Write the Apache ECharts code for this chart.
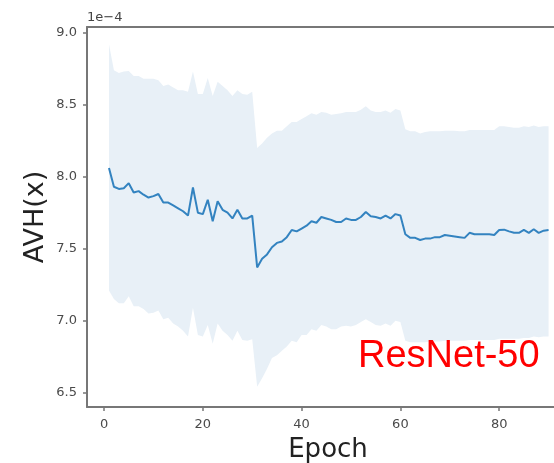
<!DOCTYPE html>
<html>
<head>
<meta charset="utf-8">
<script src="https://cdn.jsdelivr.net/npm/echarts@6/dist/echarts.min.js"></script>
<style>
  html, body { margin: 0; padding: 0; background: #fff; }
  #chart { width: 554px; height: 463px; }
</style>
</head>
<body>
<div id="chart"></div>
<script>
// AVH(x) per training epoch for ResNet-50, in units of 1e-4
const epochs = [];
for (let e = 1; e <= 90; e++) epochs.push(e);

const meanAVH = [
  8.06, 7.93, 7.915, 7.92, 7.955, 7.89, 7.90, 7.875, 7.855, 7.865,
  7.88, 7.82, 7.82, 7.80, 7.78, 7.76, 7.73, 7.925, 7.75, 7.74,
  7.84, 7.69, 7.83, 7.77, 7.75, 7.71, 7.77, 7.71, 7.71, 7.73,
  7.37, 7.43, 7.46, 7.51, 7.54, 7.55, 7.58, 7.63, 7.62, 7.64,
  7.66, 7.69, 7.68, 7.72, 7.71, 7.70, 7.685, 7.685, 7.71, 7.70,
  7.70, 7.72, 7.755, 7.725, 7.72, 7.71, 7.73, 7.71, 7.74, 7.73,
  7.60, 7.575, 7.575, 7.56, 7.57, 7.57, 7.58, 7.58, 7.595, 7.59,
  7.585, 7.58, 7.575, 7.61, 7.60, 7.60, 7.60, 7.60, 7.595, 7.63,
  7.632, 7.62, 7.61, 7.61, 7.63, 7.61, 7.635, 7.61, 7.625, 7.63
];

const upperAVH = [
  8.92, 8.74, 8.72, 8.73, 8.735, 8.70, 8.70, 8.68, 8.68, 8.68,
  8.67, 8.63, 8.64, 8.62, 8.60, 8.60, 8.59, 8.73, 8.575, 8.575,
  8.685, 8.56, 8.66, 8.63, 8.60, 8.56, 8.60, 8.575, 8.57, 8.59,
  8.20, 8.23, 8.27, 8.30, 8.32, 8.32, 8.35, 8.38, 8.38, 8.40,
  8.42, 8.44, 8.43, 8.45, 8.445, 8.43, 8.435, 8.44, 8.45, 8.45,
  8.45, 8.465, 8.49, 8.46, 8.45, 8.45, 8.46, 8.445, 8.47, 8.46,
  8.33, 8.315, 8.315, 8.30, 8.31, 8.315, 8.315, 8.315, 8.32, 8.32,
  8.32, 8.315, 8.315, 8.325, 8.325, 8.325, 8.325, 8.325, 8.325, 8.35,
  8.35, 8.345, 8.34, 8.34, 8.35, 8.345, 8.355, 8.345, 8.35, 8.35
];

const lowerAVH = [
  7.21, 7.15, 7.12, 7.12, 7.17, 7.10, 7.10, 7.08, 7.05, 7.055,
  7.07, 7.01, 7.02, 6.98, 6.96, 6.93, 6.89, 7.09, 6.90, 6.89,
  6.97, 6.84, 6.98, 6.93, 6.90, 6.86, 6.93, 6.865, 6.86, 6.87,
  6.54, 6.60, 6.665, 6.74, 6.76, 6.79, 6.82, 6.86, 6.85, 6.90,
  6.90, 6.94, 6.93, 6.97, 6.96, 6.94, 6.94, 6.96, 6.965, 6.96,
  6.97, 6.99, 7.01, 6.99, 6.97, 6.965, 6.98, 6.965, 7.00, 6.99,
  6.86, 6.85, 6.85, 6.85, 6.85, 6.855, 6.855, 6.855, 6.86, 6.86,
  6.86, 6.86, 6.86, 6.865, 6.865, 6.865, 6.865, 6.865, 6.865, 6.875,
  6.875, 6.875, 6.875, 6.875, 6.88, 6.88, 6.89, 6.885, 6.89, 6.89
];

const xTicks = [0, 20, 40, 60, 80];
const yTicks = [6.5, 7.0, 7.5, 8.0, 8.5, 9.0];

const spineColor = '#777';
const tickFont = { fontFamily: 'DejaVu Sans', fontSize: 13, color: '#4a4a4a' };

// one row per epoch: [epoch, lower, upper]
const bandRows = epochs.map((e, i) => [e, lowerAVH[i], upperAVH[i]]);
const meanPts = epochs.map((e, i) => [e, meanAVH[i]]);

// the whole spread band is one polygon: upper edge forward, lower edge back
function renderBand(params, api) {
  if (params.dataIndex !== 0) return null;
  const pts = [];
  for (let i = 0; i < bandRows.length; i++) {
    pts.push(api.coord([bandRows[i][0], bandRows[i][2]]));
  }
  for (let i = bandRows.length - 1; i >= 0; i--) {
    pts.push(api.coord([bandRows[i][0], bandRows[i][1]]));
  }
  return {
    type: 'polygon',
    shape: { points: pts },
    style: { fill: '#e8f0f7', stroke: null }
  };
}

const chart = echarts.init(document.getElementById('chart'), null, { renderer: 'canvas' });

chart.setOption({
  animation: false,
  backgroundColor: '#fff',
  grid: { left: 87, top: 27, right: 0, bottom: 56, containLabel: false },
  xAxis: [
    {
      type: 'value',
      min: -3.45,
      max: 91.1,
      splitLine: { show: false },
      axisLine: { show: true, onZero: false, lineStyle: { color: spineColor, width: 2 } },
      axisTick: { show: true, length: 4, inside: false, customValues: xTicks,
                  lineStyle: { color: spineColor, width: 1.5 } },
      axisLabel: Object.assign({ margin: 11, customValues: xTicks,
                  formatter: v => String(v) }, tickFont)
    },
    {
      type: 'value',
      position: 'top',
      min: -3.45,
      max: 91.1,
      splitLine: { show: false },
      axisLine: { show: true, onZero: false, lineStyle: { color: spineColor, width: 2 } },
      axisTick: { show: false },
      axisLabel: { show: false }
    }
  ],
  yAxis: {
    type: 'value',
    min: 6.40,
    max: 9.04,
    splitLine: { show: false },
    axisLine: { show: true, onZero: false, lineStyle: { color: spineColor, width: 2 } },
    axisTick: { show: true, length: 4, inside: false, customValues: yTicks,
                lineStyle: { color: spineColor, width: 1.5 } },
    axisLabel: Object.assign({ margin: 10, customValues: yTicks,
                formatter: v => v.toFixed(1) }, tickFont)
  },
  series: [
    {
      name: 'spread',
      type: 'custom',
      renderItem: renderBand,
      data: bandRows,
      encode: { x: 0, y: [1, 2] },
      silent: true,
      clip: true,
      z: 1
    },
    {
      name: 'mean',
      type: 'line',
      data: meanPts,
      symbol: 'none',
      lineStyle: { color: '#3383c0', width: 2 },
      z: 3
    }
  ],
  graphic: [
    {
      type: 'text', x: 87, y: 18,
      style: { text: '1e\u22124', fontFamily: 'DejaVu Sans', fontSize: 13,
               fill: '#444', align: 'left', verticalAlign: 'middle' }
    },
    {
      type: 'text', x: 36, y: 217, rotation: Math.PI / 2,
      style: { text: 'AVH(x)', fontFamily: 'DejaVu Sans', fontSize: 27,
               fill: '#222', align: 'center', verticalAlign: 'middle' }
    },
    {
      type: 'text', x: 328, y: 450,
      style: { text: 'Epoch', fontFamily: 'DejaVu Sans', fontSize: 26,
               fill: '#222', align: 'center', verticalAlign: 'middle' }
    },
    {
      type: 'text', x: 358, y: 357, z: 10,
      style: { text: 'ResNet-50', fontFamily: 'Liberation Sans', fontSize: 38,
               fill: '#ff0000', align: 'left', verticalAlign: 'middle' }
    }
  ]
});
</script>
</body>
</html>
